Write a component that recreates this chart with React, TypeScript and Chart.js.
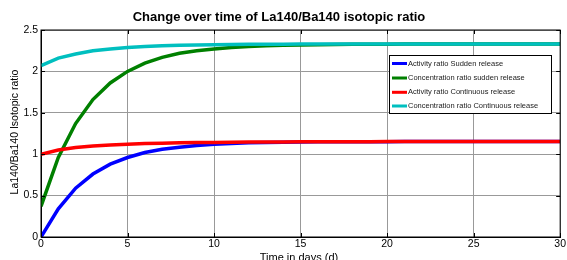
import React, { useEffect, useRef } from "react";
import { Chart, registerables } from "chart.js";

Chart.register(...registerables);

const days = [0, 1, 2, 3, 4, 5, 6, 7, 8, 9, 10, 11, 12, 13, 14, 15, 16, 17, 18, 19, 20, 21, 22, 23, 24, 25, 26, 27, 28, 29, 30];
const activitySudden = [0, 0.34, 0.59, 0.76, 0.88, 0.96, 1.02, 1.06, 1.085, 1.105, 1.12, 1.13, 1.137, 1.142, 1.145, 1.147, 1.149, 1.15, 1.15, 1.151, 1.151, 1.152, 1.152, 1.152, 1.152, 1.152, 1.152, 1.152, 1.152, 1.152, 1.152];
const concentrationSudden = [0.37, 0.96, 1.37, 1.66, 1.86, 2.0, 2.1, 2.17, 2.22, 2.25, 2.27, 2.29, 2.3, 2.31, 2.315, 2.32, 2.323, 2.325, 2.327, 2.328, 2.329, 2.33, 2.33, 2.33, 2.33, 2.33, 2.33, 2.33, 2.33, 2.33, 2.33];
const activityContinuous = [1.0, 1.05, 1.08, 1.1, 1.11, 1.12, 1.128, 1.133, 1.137, 1.14, 1.142, 1.144, 1.146, 1.147, 1.148, 1.149, 1.15, 1.15, 1.151, 1.151, 1.152, 1.152, 1.152, 1.152, 1.152, 1.152, 1.152, 1.152, 1.152, 1.152, 1.152];
const concentrationContinuous = [2.07, 2.16, 2.21, 2.25, 2.27, 2.29, 2.3, 2.31, 2.315, 2.32, 2.322, 2.325, 2.327, 2.328, 2.329, 2.33, 2.33, 2.33, 2.33, 2.33, 2.33, 2.33, 2.33, 2.33, 2.33, 2.33, 2.33, 2.33, 2.33, 2.33, 2.33];

const xTickValues = [0, 5, 10, 15, 20, 25, 30];
const yTickValues = [0, 0.5, 1, 1.5, 2, 2.5];
const yTickLabels = ["0", "0.5", "1", "1.5", "2", "2.5"];

const seriesNames = [
  "Activity ratio Sudden release",
  "Concentration ratio sudden release",
  "Activity ratio Continuous release",
  "Concentration ratio Continuous release",
];
const seriesColors = ["#0000ff", "#008000", "#ff0000", "#00bfbf"];
const seriesValues = [activitySudden, concentrationSudden, activityContinuous, concentrationContinuous];

const titleText = "Change over time of La140/Ba140 isotopic ratio";
const xTitle = "Time in days (d)";
const yTitle = "La140/Ba140 Isotopic ratio";

const FONT = "'Liberation Sans', Arial, Helvetica, sans-serif";

const decorPlugin = {
  id: "decor",
  afterDraw(chart: any) {
    const ctx = chart.ctx;
    const a = chart.chartArea;
    const xs = chart.scales.x;
    const ys = chart.scales.y;
    ctx.save();
    ctx.strokeStyle = "#000";
    ctx.lineWidth = 1;
    ctx.strokeRect(a.left, a.top, a.right - a.left, a.bottom - a.top);
    ctx.beginPath();
    for (const v of xTickValues) {
      const px = Math.round(xs.getPixelForValue(v)) + 0.5;
      ctx.moveTo(px, a.bottom);
      ctx.lineTo(px, a.bottom - 4);
      ctx.moveTo(px, a.top);
      ctx.lineTo(px, a.top + 4);
    }
    for (const v of yTickValues) {
      const py = Math.round(ys.getPixelForValue(v)) + 0.5;
      ctx.moveTo(a.left, py);
      ctx.lineTo(a.left + 4, py);
      ctx.moveTo(a.right, py);
      ctx.lineTo(a.right - 4, py);
    }
    ctx.stroke();

    ctx.fillStyle = "#000";
    ctx.font = "bold 13px " + FONT;
    ctx.textAlign = "center";
    ctx.textBaseline = "alphabetic";
    ctx.fillText(titleText, 279, 21);

    ctx.font = "11px " + FONT;
    ctx.fillText(xTitle, 299, 261);

    ctx.save();
    ctx.translate(15, 132);
    ctx.rotate(-Math.PI / 2);
    ctx.textBaseline = "middle";
    ctx.font = "10.5px " + FONT;
    ctx.fillText(yTitle, 0, 0);
    ctx.restore();

    const lx = 389.5, ly = 55.5, lw = 162, lh = 58;
    ctx.fillStyle = "#fff";
    ctx.fillRect(lx, ly, lw, lh);
    ctx.strokeStyle = "#000";
    ctx.lineWidth = 1;
    ctx.strokeRect(lx, ly, lw, lh);
    ctx.font = "7.5px " + FONT;
    ctx.textAlign = "left";
    ctx.textBaseline = "middle";
    const rows = [63.5, 78, 92.3, 106];
    seriesNames.forEach((name, i) => {
      ctx.strokeStyle = seriesColors[i];
      ctx.lineWidth = 3;
      ctx.beginPath();
      ctx.moveTo(392, rows[i]);
      ctx.lineTo(407, rows[i]);
      ctx.stroke();
      ctx.fillStyle = "#222";
      ctx.fillText(name, 408, rows[i]);
    });
    ctx.restore();
  },
};

export default function App() {
  const ref = useRef<HTMLCanvasElement | null>(null);
  useEffect(() => {
    document.body.style.margin = "0";
    const canvas = ref.current;
    if (!canvas) return;
    const orders = [4, 3, 2, 1];
    const chart = new Chart(canvas, {
      type: "line",
      data: {
        datasets: seriesValues.map((vals, i) => ({
          label: seriesNames[i],
          data: days.map((d, j) => ({ x: d, y: vals[j] })),
          borderColor: seriesColors[i],
          backgroundColor: seriesColors[i],
          borderWidth: 3.5,
          pointRadius: 0,
          tension: 0,
          fill: false,
          order: orders[i],
        })),
      },
      options: {
        responsive: false,
        animation: false,
        events: [],
        layout: { padding: { top: 30, right: 6, left: 0, bottom: 0 } },
        plugins: {
          legend: { display: false },
          title: { display: false },
          tooltip: { enabled: false },
        },
        scales: {
          x: {
            type: "linear",
            min: 0,
            max: 30,
            afterFit: (s: any) => {
              s.height = 23;
            },
            afterBuildTicks: (s: any) => {
              s.ticks = xTickValues.map((v) => ({ value: v }));
            },
            ticks: {
              padding: 1,
              color: "#000",
              maxRotation: 0,
              autoSkip: false,
              callback: (v: any) => String(Number(v)),
              font: { family: FONT, size: 10.5 },
            },
            grid: { color: "#999999", lineWidth: 1, drawTicks: false },
            border: { display: true, color: "#000", width: 1 },
          },
          y: {
            type: "linear",
            min: 0,
            max: 2.5,
            afterFit: (s: any) => {
              s.width = 41;
            },
            afterBuildTicks: (s: any) => {
              s.ticks = yTickValues.map((v) => ({ value: v }));
            },
            ticks: {
              padding: 3,
              color: "#000",
              autoSkip: false,
              callback: (v: any) => {
                const idx = yTickValues.indexOf(Number(v));
                return idx >= 0 ? yTickLabels[idx] : String(Number(v));
              },
              font: { family: FONT, size: 10.5 },
            },
            grid: { color: "#999999", lineWidth: 1, drawTicks: false },
            border: { display: true, color: "#000", width: 1 },
          },
        },
      },
      plugins: [decorPlugin],
    } as any);
    return () => chart.destroy();
  }, []);
  return (
    <div style={{ width: 567, height: 260, background: "#fff" }}>
      <canvas ref={ref} width={567} height={260} style={{ display: "block" }} />
    </div>
  );
}
